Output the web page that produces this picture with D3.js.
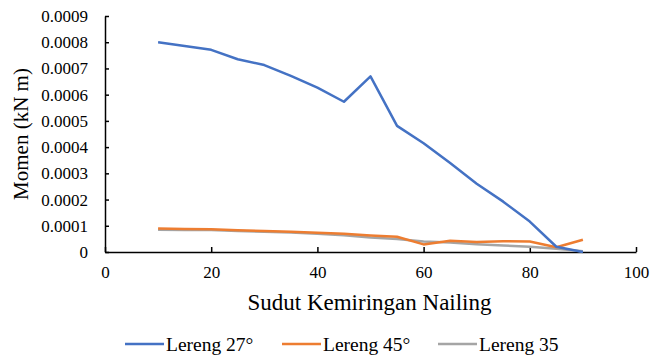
<!DOCTYPE html>
<html>
<head>
<meta charset="utf-8">
<script src="https://cdn.jsdelivr.net/npm/d3@7/dist/d3.min.js"></script>
<style>
  html, body { margin: 0; padding: 0; background: #fff; }
  svg { display: block; }
</style>
</head>
<body>
<svg id="chart" width="652" height="356"></svg>
<script>
const FONT = "'Liberation Serif', 'Times New Roman', Tinos, 'DejaVu Serif', serif";

// Kemiringan nailing (derajat)
const angles = [10, 15, 20, 25, 30, 35, 40, 45, 50, 55, 60, 65, 70, 75, 80, 85, 90];

// Momen (kN m) per lereng
const lereng27 = [0.00080, 0.000786, 0.000771, 0.000735, 0.000713, 0.000672, 0.000627, 0.000573, 0.000670,
                  0.000481, 0.000415, 0.000339, 0.000260, 0.000192, 0.000116, 0.000020, 0.0];
const lereng45 = [0.000090, 0.000088, 0.000087, 0.000083, 0.000080, 0.000077, 0.000073, 0.000070, 0.000063,
                  0.000058, 0.000029, 0.000043, 0.000038, 0.000041, 0.000040, 0.000018, 0.000047];
const lereng35 = [0.000085, 0.000084, 0.000084, 0.000080, 0.000077, 0.000074, 0.000070, 0.000064, 0.000055,
                  0.000050, 0.000040, 0.000036, 0.000030, 0.000025, 0.000020, 0.000012, 0.000003];

const seriesNames = ["Lereng 27°", "Lereng 45°", "Lereng 35"];
const seriesColors = ["#4472C4", "#ED7D31", "#A5A5A5"];
const seriesValues = [lereng27, lereng45, lereng35];

const xTicks = [0, 20, 40, 60, 80, 100];
const yTicks = [0, 0.0001, 0.0002, 0.0003, 0.0004, 0.0005, 0.0006, 0.0007, 0.0008, 0.0009];

const svg = d3.select("#chart");
const plot = { left: 105, right: 636, top: 16, bottom: 252 };

const x = d3.scaleLinear().domain([0, 100]).range([plot.left, plot.right]);
const y = d3.scaleLinear().domain([0, 0.0009]).range([plot.bottom, plot.top]);

// Sumbu X
const xAxis = svg.append("g")
  .attr("transform", `translate(0,${plot.bottom})`)
  .call(d3.axisBottom(x).tickValues(xTicks).tickSizeInner(-5).tickSizeOuter(0).tickPadding(14)
    .tickFormat(d3.format("d")));
xAxis.attr("font-family", null).attr("font-size", null);
xAxis.select(".domain").attr("stroke", "#000").attr("stroke-width", 1.5);
xAxis.selectAll(".tick line").attr("stroke", "#000").attr("stroke-width", 1.5);
xAxis.selectAll(".tick text").style("font-family", FONT).style("font-size", "17px").attr("fill", "#000");

// Sumbu Y
const yAxis = svg.append("g")
  .attr("transform", `translate(${plot.left},0)`)
  .call(d3.axisLeft(y).tickValues(yTicks).tickSizeInner(-4).tickSizeOuter(0).tickPadding(17)
    .tickFormat(d => d === 0 ? "0" : d3.format(".4f")(d)));
yAxis.attr("font-family", null).attr("font-size", null);
yAxis.select(".domain").attr("stroke", "#000").attr("stroke-width", 1.5);
yAxis.selectAll(".tick line").attr("stroke", "#000").attr("stroke-width", 1.5);
yAxis.selectAll(".tick text").style("font-family", FONT).style("font-size", "17px").attr("fill", "#000");

// Garis data
const line = d3.line()
  .x((d, i) => x(angles[i]))
  .y(d => y(d));

[2, 1, 0].forEach(k => {
  svg.append("path")
    .datum(seriesValues[k])
    .attr("fill", "none")
    .attr("stroke", seriesColors[k])
    .attr("stroke-width", 2.5)
    .attr("stroke-linejoin", "round")
    .attr("d", line);
});

// Judul sumbu
svg.append("text")
  .attr("x", (plot.left + plot.right) / 2 - 1)
  .attr("y", 310)
  .attr("text-anchor", "middle")
  .style("font-family", FONT).style("font-size", "23px")
  .text("Sudut Kemiringan Nailing");

svg.append("text")
  .attr("transform", `translate(28,${(plot.top + plot.bottom) / 2}) rotate(-90)`)
  .attr("text-anchor", "middle")
  .style("font-family", FONT).style("font-size", "21px")
  .text("Momen  (kN m)");

// Legenda
const legendX = [125, 282, 438];
const legend = svg.append("g");
seriesNames.forEach((name, k) => {
  const g = legend.append("g").attr("transform", `translate(${legendX[k]},344)`);
  g.append("line").attr("x1", 0).attr("x2", 39).attr("y1", 0).attr("y2", 0)
    .attr("stroke", seriesColors[k]).attr("stroke-width", 2.5);
  g.append("text").attr("x", 41).attr("y", 6.5)
    .style("font-family", FONT).style("font-size", "19.5px").text(name);
});
</script>
</body>
</html>
